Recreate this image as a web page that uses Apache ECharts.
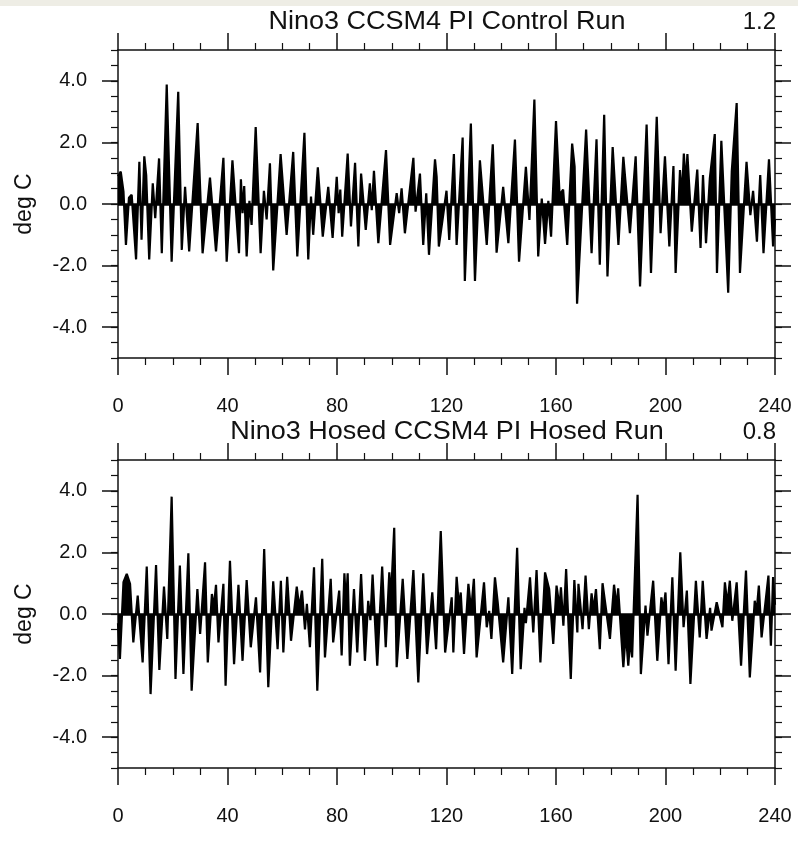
<!DOCTYPE html>
<html>
<head>
    <meta charset="utf-8">
    <title>Nino3 CCSM4</title>
    <style>
        body { margin: 0; background: #fff; }
    </style>
</head>
<body>
    <div id="main" style="width: 798px;height:850px;"></div>
    <script src="https://cdn.jsdelivr.net/npm/echarts@6/dist/echarts.min.js"></script>
    <script>
        // x tick labels and y tick values
        var xTicks = [0, 40, 80, 120, 160, 200, 240];
        var yTicks = [-4, -2, 0, 2, 4];

        var titles = ['Nino3 CCSM4 PI Control Run', 'Nino3 Hosed CCSM4 PI Hosed Run'];
        var stdevs = ['1.2', '0.8'];

        // control run: time and anomaly (deg C)
        var ctrlX = [0, 1, 2, 2.9, 4, 5, 6.6, 7.8, 8.6, 9.6, 10.3, 11.4, 12.7, 13.6, 15, 16, 17.8, 19.6, 22, 23.3,
            24.5, 26, 29.1, 30.9, 33.6, 35.8, 38.5, 39.7, 41.8, 44.2, 44.9, 45.5, 46.1, 47, 48, 48.8, 50.3, 52.1, 53.3, 54.3,
            55.5, 56.7, 59.4, 61.6, 64, 65.5, 68.1, 69.5, 70.5, 71.3, 73, 74.8, 76.8, 78.4, 79.9, 80.6, 81.2, 81.9, 83.9, 85.1,
            86.6, 87.8, 88.8, 90.5, 92, 92.7, 93.5, 95.1, 97.9, 99.4, 101.8, 102.7, 103.6, 104.8, 107.9, 108.7, 110.3, 111.5, 112.6, 113.6,
            115.8, 116.4, 117.2, 120, 121, 122.7, 123.7, 125.9, 126.7, 128.9, 130.4, 132.2, 134.7, 136.9, 138.3, 140.7, 142.6, 145, 146.5, 149,
            150.3, 152.1, 153.5, 154.8, 156, 157.2, 158.2, 160, 161.3, 162.6, 164.1, 165.9, 166.8, 167.7, 171, 173, 174.8, 176, 177.6, 178.8,
            180.7, 182.8, 184.6, 187, 189.1, 190.7, 193.1, 194.7, 196.8, 198.2, 199.8, 201.4, 202.9, 203.7, 205.3, 206, 206.7, 207.4, 208, 209.6,
            211.6, 212.8, 213.7, 214.8, 216.2, 218, 218.8, 220.4, 222.9, 224.2, 226, 227.2, 229.6, 231, 232, 233.4, 234.6, 235.8, 237.8, 239.3, 240];
        var ctrlY = [0.9, 1.05, 0.4, -1.33, 0.2, 0.3, -1.8, 1.37, -1.16, 1.55, 0.94, -1.8, 0.67, -0.46, 1.48, -1.6, 3.88, -1.87, 3.64, -1.49,
            0.56, -1.54, 2.63, -1.6, 0.86, -1.54, 1.5, -1.87, 1.42, -1.6, 0.8, -0.3, 0.58, -1.7, 0.1, -0.68, 2.5, -1.6, 0.43, -0.5,
            1.32, -2.16, 1.62, -1.0, 1.69, -1.7, 2.31, -1.8, 0.24, -1.0, 1.19, -1.06, 0.56, -1.1, 0.88, -0.3, 0.47, -1.06, 1.64, -0.73,
            1.34, -1.38, 0.99, -0.84, 0.67, -0.2, 1.08, -1.27, 1.75, -1.33, 0.35, -0.3, 0.51, -0.95, 1.5, -0.25, 0.99, -1.33, 0.35, -1.65,
            1.45, 0.88, -1.38, 0.43, -1.17, 1.62, -1.33, 2.16, -2.5, 2.61, -2.5, 1.42, -1.33, 1.94, -1.58, 0.56, -1.27, 2.09, -1.87, 1.21,
            -0.52, 3.39, -1.7, 0.18, -1.3, 0.1, -1.06, 2.69, 0.3, 0.47, -1.33, 1.96, 1.21, -3.24, 2.42, -1.6, 2.1, -1.97, 2.9, -2.35,
            1.85, -1.33, 1.53, -0.95, 1.55, -2.68, 2.58, -2.24, 2.83, -0.95, 1.55, -1.38, 1.23, -2.24, 1.1, 0.2, 1.64, 0.6, 1.62, -0.9,
            1.12, -1.43, 0.94, -1.27, 0.83, 2.27, -2.24, 2.05, -2.88, 1.05, 3.28, -2.24, 1.37, -0.36, 0.43, -1.22, 0.94, -1.6, 1.45, -1.38, -0.5];

        // hosed run
        var hosedX = [0, 0.7, 2, 3.2, 4.4, 5.6, 7.2, 9, 10.5, 11.9, 13.9, 15.1, 16.8, 18, 19.6, 21, 22.6, 23.9, 25.7, 26.9,
            29, 30, 31.8, 32.8, 34.3, 35, 35.8, 36.7, 38.5, 39.3, 40.9, 42.4, 44, 45.5, 47, 48.5, 50.4, 51.9, 53.4, 54.9,
            56.7, 58.3, 59.5, 60.4, 61.8, 63.2, 65.3, 66.2, 67.2, 68.3, 69, 70.1, 71.6, 72.8, 74.6, 75.6, 77.7, 78.6, 80.8, 81.7,
            82.7, 83.3, 83.9, 84.7, 86.2, 87.4, 88.8, 90.2, 91.4, 92.2, 93, 94.7, 96.5, 97.8, 99.1, 99.7, 100.9, 101.8, 104, 105.7,
            107.9, 109.7, 111.5, 112.9, 114.8, 116.2, 117.9, 119.5, 121.9, 122.5, 123.7, 124.6, 125.2, 126.4, 128, 129, 130, 131, 133.7, 134.7,
            135.6, 136.4, 137.7, 138.7, 140.7, 142.6, 144, 145.8, 147.1, 148.5, 149, 150.5, 151.7, 152.9, 154.3, 156, 157.5, 159, 160.2, 161.3,
            161.8, 162.7, 163.7, 165.4, 166.7, 167.8, 168.2, 169.7, 170.8, 172, 173, 173.7, 174.6, 176, 177, 179.7, 181.2, 182.2, 182.7, 184.6,
            185.5, 186.4, 187.1, 187.8, 189.8, 191, 192.7, 193.4, 195.5, 197, 198.5, 199.2, 200, 201.1, 202.5, 203.7, 205.4, 206.6, 207.8, 209.1,
            211.1, 212.5, 213.6, 215, 216.3, 216.8, 218.7, 220.8, 221.7, 222.6, 223.5, 224.4, 226, 227.6, 229.4, 230.8, 232.6, 233.2, 234.1, 235.1,
            237.6, 238.5, 239.3, 240];
        var hosedY = [-0.3, -1.46, 1.03, 1.3, 0.98, -0.92, 0.6, -1.57, 1.54, -2.6, 1.59, -1.82, 0.89, -0.81, 3.81, -2.11, 1.57, -1.95, 1.97, -2.49,
            0.81, -0.65, 1.68, -1.57, 0.65, 0.2, 0.95, -0.92, 0.98, -2.33, 1.73, -1.63, 0.95, -1.52, 1.1, -1.08, 0.54, -1.9, 2.11, -2.38,
            1.06, -1.14, 1.08, -1.25, 1.21, -0.87, 0.89, 0.2, 0.76, -0.5, 0.33, -1.08, 1.52, -2.49, 1.79, -1.41, 1.14, -0.92, 0.76, -1.35,
            1.32, 0.3, 1.32, -1.68, 0.81, -1.25, 1.3, -1.52, 0.43, -0.2, 1.28, -1.68, 1.54, -1.08, 1.35, 0.5, 2.8, -1.73, 1.14, -1.46,
            1.43, -2.22, 1.32, -1.3, 0.7, -1.14, 2.69, -1.25, 0.54, -1.25, 1.21, 0.2, 0.7, -1.3, 0.98, 0.1, 1.14, -1.41, 1.03, -0.43,
            0.1, -0.81, 1.19, 0.38, -1.57, 0.54, -1.95, 2.15, -1.79, 0.2, -0.3, 1.19, -0.6, 1.43, -1.57, 1.35, 0.81, -0.97, 0.92, 0.2,
            0.87, -0.38, 1.46, -2.11, 1.1, -0.6, 0.98, -0.49, 1.25, -0.49, 0.67, 0.1, 0.81, -1.14, 1.0, -0.81, 0.95, 0.2, 0.83, -1.73,
            -0.6, -1.68, -0.8, -1.41, 3.87, -1.95, 0.27, -0.7, 1.08, -1.52, 0.54, 0.1, 0.7, -1.63, 1.19, -1.84, 2.0, -0.43, 0.76, -2.27,
            1.08, -0.76, 1.08, -0.81, 0.2, -0.54, 0.38, -0.43, 1.03, 0.3, 1.08, -0.22, 1.03, -1.68, 1.41, -2.06, 0.43, 0.0, 0.92, -0.76,
            1.25, -1.03, 1.2, 0.3];

        function pairs(xs, ys) {
            var out = [];
            for (var i = 0; i < xs.length; i++) {
                out.push([xs[i], ys[i]]);
            }
            return out;
        }

        var ink = '#111';
        var labelFont = {
            color: '#111',
            fontFamily: 'Liberation Sans',
            fontSize: 20
        };

        var gridTops = [50, 460];

        function xAxes(g) {
            var list = [];
            ['bottom', 'top'].forEach(function (pos) {
                list.push({
                    type: 'value',
                    gridIndex: g,
                    position: pos,
                    min: xTicks[0],
                    max: xTicks[xTicks.length - 1],
                    interval: 40,
                    axisLine: { show: true, onZero: false, lineStyle: { color: ink, width: 1.5 } },
                    axisTick: { show: true, inside: false, length: 17, lineStyle: { color: ink, width: 1.5 } },
                    minorTick: { show: true, splitNumber: 4, length: 7, lineStyle: { color: ink, width: 1.2 } },
                    axisLabel: echarts.util.extend({ show: pos === 'bottom', margin: 38 }, labelFont),
                    splitLine: { show: false },
                    minorSplitLine: { show: false }
                });
            });
            return list;
        }

        function yAxes(g) {
            var list = [];
            ['left', 'right'].forEach(function (pos) {
                list.push({
                    type: 'value',
                    gridIndex: g,
                    position: pos,
                    min: -5,
                    max: 5,
                    name: pos === 'left' ? 'deg C' : '',
                    nameLocation: 'middle',
                    nameGap: 82,
                    nameRotate: 90,
                    nameTextStyle: { color: '#111', fontFamily: 'Liberation Sans', fontSize: 23 },
                    axisLine: { show: true, onZero: false, lineStyle: { color: ink, width: 1.5 } },
                    axisTick: { show: true, inside: false, length: 16, customValues: yTicks, lineStyle: { color: ink, width: 1.5 } },
                    axisLabel: echarts.util.extend({
                        show: pos === 'left',
                        margin: 31,
                        customValues: yTicks,
                        formatter: function (v) { return v.toFixed(1); }
                    }, labelFont),
                    splitLine: { show: false }
                });
                // minor ticks every 0.5
                list.push({
                    type: 'value',
                    gridIndex: g,
                    position: pos,
                    min: -5,
                    max: 5,
                    interval: 0.5,
                    axisLine: { show: false, onZero: false },
                    axisTick: { show: true, inside: false, length: 7, lineStyle: { color: ink, width: 1.2 } },
                    axisLabel: { show: false },
                    splitLine: { show: false }
                });
            });
            return list;
        }

        function runSeries(g, data) {
            return {
                type: 'line',
                xAxisIndex: g * 2,
                yAxisIndex: g * 4,
                data: data,
                symbol: 'none',
                silent: true,
                lineStyle: { color: '#000', width: 2.2, join: 'bevel' },
                areaStyle: { color: '#000', opacity: 1, origin: 0 },
                markLine: {
                    silent: true,
                    symbol: 'none',
                    label: { show: false },
                    lineStyle: { color: '#000', width: 2.5, type: 'solid' },
                    data: [{ yAxis: 0 }]
                }
            };
        }

        var graphics = [{
            type: 'rect',
            shape: { x: 0, y: 0, width: 798, height: 6 },
            style: { fill: '#eeede5' }
        }];
        gridTops.forEach(function (t, i) {
            graphics.push({
                type: 'text',
                x: 447,
                y: t - 28,
                scaleX: 1.08,
                style: {
                    text: titles[i],
                    font: '25px "Liberation Sans"',
                    fill: '#111',
                    textAlign: 'center',
                    textVerticalAlign: 'middle'
                }
            });
            graphics.push({
                type: 'text',
                x: 776,
                y: t - 28,
                style: {
                    text: stdevs[i],
                    font: '24px "Liberation Sans"',
                    fill: '#111',
                    textAlign: 'right',
                    textVerticalAlign: 'middle'
                }
            });
        });

        var myChart = echarts.init(document.getElementById('main'));
        var option = {
            animation: false,
            backgroundColor: '#fff',
            grid: [
                { left: 118, top: gridTops[0], width: 657, height: 308 },
                { left: 118, top: gridTops[1], width: 657, height: 308 }
            ],
            xAxis: xAxes(0).concat(xAxes(1)),
            yAxis: yAxes(0).concat(yAxes(1)),
            series: [runSeries(0, pairs(ctrlX, ctrlY)), runSeries(1, pairs(hosedX, hosedY))],
            graphic: graphics
        };
        myChart.setOption(option);
    </script>
</body>
</html>
